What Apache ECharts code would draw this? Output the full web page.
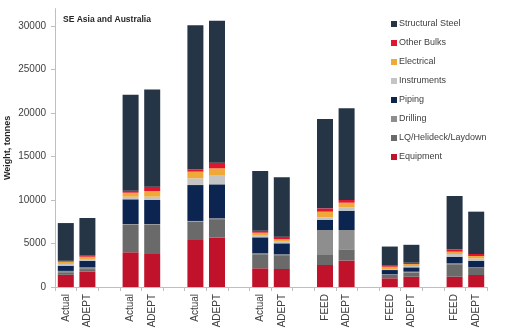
<!DOCTYPE html>
<html><head><meta charset="utf-8">
<script src="https://cdn.jsdelivr.net/npm/echarts@6/dist/echarts.min.js"></script>
<style>html,body{margin:0;padding:0;background:#fff}#c{width:509px;height:335px}</style>
</head><body><div id="c"></div>
<script>
const categories = ['Actual','ADEPT','','Actual','ADEPT','','Actual','ADEPT','','Actual','ADEPT','','FEED','ADEPT','','FEED','ADEPT','','FEED','ADEPT'];
const equipment   = [1400,1760,'-',3990,3790,'-',5400,5670,'-',2150,2070,'-',2530,3040,'-',1000,1180,'-',1180,1380];
const lqHelideck  = [300,300,'-',3150,3350,'-',2100,2130,'-',1620,1590,'-',1150,1290,'-',400,500,'-',1440,800];
const drilling    = [150,200,'-',100,100,'-',90,100,'-',100,100,'-',2870,2220,'-',60,80,'-',100,80];
const piping      = [600,760,'-',2840,2760,'-',4130,3900,'-',1840,1260,'-',1150,2220,'-',490,500,'-',760,760];
const instruments = [200,200,'-',300,380,'-',770,1070,'-',270,190,'-',310,390,'-',120,150,'-',310,270];
const electrical  = [260,260,'-',460,650,'-',770,770,'-',260,270,'-',650,530,'-',260,230,'-',270,270];
const otherBulks  = [100,120,'-',230,500,'-',270,650,'-',230,310,'-',380,310,'-',120,150,'-',270,230];
const structSteel = [4340,4330,'-',11030,11170,'-',16570,16310,'-',6860,6820,'-',10260,10540,'-',2200,2060,'-',6130,4870];
const yTicks = [0,5000,10000,15000,20000,25000,30000];

const seriesDefs = [
  ['Equipment', equipment, '#c0132b'],
  ['LQ/Helideck/Laydown', lqHelideck, '#6a6a6a'],
  ['Drilling', drilling, '#8e8e8e'],
  ['Piping', piping, '#0c2550'],
  ['Instruments', instruments, '#c4c4c4'],
  ['Electrical', electrical, '#f0a838'],
  ['Other Bulks', otherBulks, '#e0162e'],
  ['Structural Steel', structSteel, '#263546']
];
const font = 'Liberation Sans, Arial, sans-serif';
const chart = echarts.init(document.getElementById('c'), null, {renderer:'canvas'});
chart.setOption({
  animation:false,
  textStyle:{fontFamily:font},
  title:{text:'SE Asia and Australia', left:63, top:15, padding:0,
    textStyle:{fontSize:8.5, fontWeight:'bold', color:'#262626', fontFamily:font}},
  legend:{orient:'vertical', left:386, top:13, itemWidth:6, itemHeight:6, itemGap:7,
    icon:'rect', data:seriesDefs.map(s=>s[0]).reverse(),
    textStyle:{fontSize:9, color:'#404040', lineHeight:12, padding:[0,0,0,-3], fontFamily:font}},
  grid:{left:55, right:22, top:8.6, bottom:48, containLabel:false, outerBoundsMode:'none'},
  xAxis:{type:'category', data:categories,
    axisLine:{lineStyle:{color:'#bfbfbf'}},
    axisTick:{show:true, interval:0, length:4, lineStyle:{color:'#bfbfbf'}},
    axisLabel:{interval:0, rotate:90, fontSize:10, color:'#404040', margin:7, fontFamily:font}},
  yAxis:{type:'value', min:0, max:32000, interval:5000,
    name:'Weight, tonnes', nameLocation:'middle', nameGap:43, nameMoveOverlap:false,
    nameTextStyle:{fontSize:9, fontWeight:'bold', color:'#262626', fontFamily:font},
    axisLine:{show:true, lineStyle:{color:'#bfbfbf'}},
    axisTick:{show:true, length:4, lineStyle:{color:'#bfbfbf'}},
    splitLine:{show:false},
    axisLabel:{showMaxLabel:false, fontSize:10, color:'#404040', margin:9, fontFamily:font,
      formatter:v=>yTicks.includes(v)?String(v):''}},
  series: seriesDefs.map(([name,data,color])=>({
    name, type:'bar', stack:'total', data, barWidth:16,
    itemStyle:{color}
  }))
});
</script></body></html>
